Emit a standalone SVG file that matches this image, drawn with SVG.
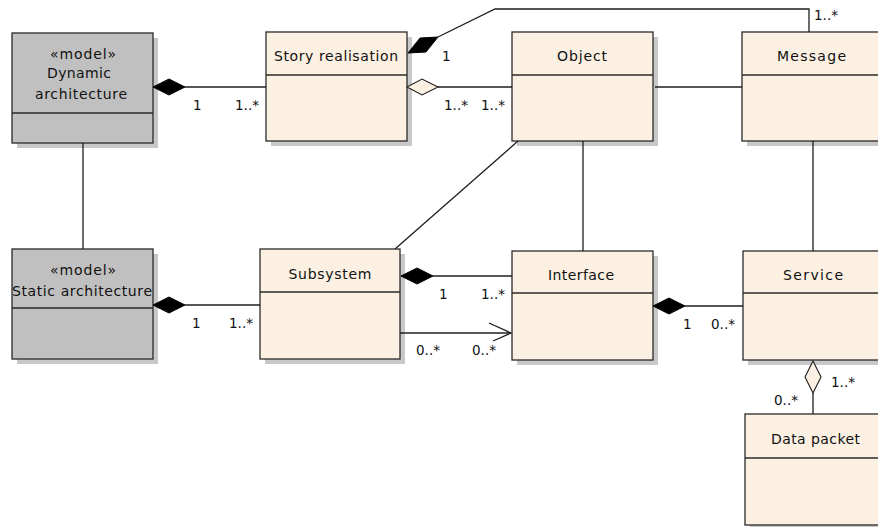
<svg xmlns="http://www.w3.org/2000/svg" width="878" height="527" viewBox="0 0 878 527">
<style>
.box{fill:#FBF0E2;stroke:#2a2a2a;stroke-width:1.3}
.gbox{fill:#C0C0C0;stroke:#2a2a2a;stroke-width:1.3}
.sh{fill:#C8C8C8;stroke:none}
.sep{stroke:#2a2a2a;stroke-width:1.3}
.nm{font-family:"DejaVu Sans",sans-serif;font-size:14px;fill:#111;text-anchor:middle}
.m{font-family:"DejaVu Sans",sans-serif;font-size:13.5px;fill:#111}
.ln{stroke:#1e1e1e;stroke-width:1.3;fill:none}
.fd{fill:#000;stroke:#000;stroke-width:1}
.hd{fill:#FBF0E2;stroke:#1e1e1e;stroke-width:1.1}
</style>
<rect width="878" height="527" fill="#fff"/>

<g id="dynamic-architecture">
<rect class="sh" x="17" y="38" width="141" height="110"/>
<rect class="gbox" x="12" y="33" width="141" height="110"/>
<line class="sep" x1="12" y1="113" x2="153" y2="113"/>
<text class="nm" x="83" y="59" textLength="66" lengthAdjust="spacing">«model»</text>
<text class="nm" x="79" y="78" textLength="64" lengthAdjust="spacing">Dynamic</text>
<text class="nm" x="81" y="99" textLength="92" lengthAdjust="spacing">architecture</text>
</g>

<g id="story-realisation">
<rect class="sh" x="271" y="37" width="141" height="109"/>
<rect class="box" x="266" y="32" width="141" height="109"/>
<line class="sep" x1="266" y1="75" x2="407" y2="75"/>
<text class="nm" x="336" y="61" textLength="124" lengthAdjust="spacing">Story realisation</text>
</g>

<g id="object">
<rect class="sh" x="517" y="37" width="141" height="109"/>
<rect class="box" x="512" y="32" width="141" height="109"/>
<line class="sep" x1="512" y1="75" x2="653" y2="75"/>
<text class="nm" x="582" y="61" textLength="50" lengthAdjust="spacing">Object</text>
</g>

<g id="message">
<rect class="sh" x="747" y="37" width="141" height="109"/>
<rect class="box" x="742" y="32" width="141" height="109"/>
<line class="sep" x1="742" y1="75" x2="883" y2="75"/>
<text class="nm" x="811.5" y="61" textLength="69" lengthAdjust="spacing">Message</text>
</g>

<g id="static-architecture">
<rect class="sh" x="17" y="254" width="141" height="110"/>
<rect class="gbox" x="12" y="249" width="141" height="110"/>
<line class="sep" x1="12" y1="308" x2="153" y2="308"/>
<text class="nm" x="83" y="275" textLength="66" lengthAdjust="spacing">«model»</text>
<text class="nm" x="82" y="296" textLength="140" lengthAdjust="spacing">Static architecture</text>
</g>

<g id="subsystem">
<rect class="sh" x="265" y="254" width="140" height="110"/>
<rect class="box" x="260" y="249" width="140" height="110"/>
<line class="sep" x1="260" y1="292" x2="400" y2="292"/>
<text class="nm" x="330" y="279" textLength="83" lengthAdjust="spacing">Subsystem</text>
</g>

<g id="interface">
<rect class="sh" x="517" y="256" width="141" height="109"/>
<rect class="box" x="512" y="251" width="141" height="109"/>
<line class="sep" x1="512" y1="293" x2="653" y2="293"/>
<text class="nm" x="581" y="280" textLength="66" lengthAdjust="spacing">Interface</text>
</g>

<g id="service">
<rect class="sh" x="748" y="256" width="141" height="109"/>
<rect class="box" x="743" y="251" width="141" height="109"/>
<line class="sep" x1="743" y1="293" x2="884" y2="293"/>
<text class="nm" x="813" y="280" textLength="60" lengthAdjust="spacing">Service</text>
</g>

<g id="data-packet">
<rect class="sh" x="750" y="419" width="141" height="111"/>
<rect class="box" x="745" y="414" width="141" height="111"/>
<line class="sep" x1="745" y1="458" x2="886" y2="458"/>
<text class="nm" x="815.5" y="444" textLength="89" lengthAdjust="spacing">Data packet</text>
</g>

<g id="connectors">
<line class="ln" x1="83" y1="143" x2="83" y2="249"/>
<polygon class="fd" points="153,87 169,79 185,87 169,95"/>
<line class="ln" x1="185" y1="87" x2="266" y2="87"/>
<text class="m" x="193" y="110">1</text>
<text class="m" x="235" y="110">1..*</text>
<polygon class="fd" points="408,53 420,38 438,37 426,52"/>
<polyline class="ln" points="438,37 495,9 809,9 809,32"/>
<text class="m" x="442" y="61">1</text>
<text class="m" x="814" y="20">1..*</text>
<polygon class="hd" points="407,87 422,79 438,87 422,95"/>
<line class="ln" x1="438" y1="87" x2="512" y2="87"/>
<text class="m" x="444" y="110">1..*</text>
<text class="m" x="481" y="110">1..*</text>
<line class="ln" x1="655" y1="87" x2="742" y2="87"/>
<line class="ln" x1="583" y1="141" x2="583" y2="251"/>
<line class="ln" x1="813" y1="141" x2="813" y2="251"/>
<line class="ln" x1="518" y1="141" x2="395" y2="249"/>
<polygon class="fd" points="153,305 169,297 185,305 169,313"/>
<line class="ln" x1="185" y1="305" x2="260" y2="305"/>
<text class="m" x="192" y="328">1</text>
<text class="m" x="229" y="328">1..*</text>
<polygon class="fd" points="401,276 417,268 433,276 417,284"/>
<line class="ln" x1="433" y1="276" x2="512" y2="276"/>
<text class="m" x="439" y="299">1</text>
<text class="m" x="481" y="299">1..*</text>
<line class="ln" x1="400" y1="333" x2="511" y2="333"/>
<polyline class="ln" points="489,323 511,333 493,341"/>
<text class="m" x="416" y="355">0..*</text>
<text class="m" x="472" y="355">0..*</text>
<polygon class="fd" points="653,306 669,298 685,306 669,314"/>
<line class="ln" x1="685" y1="306" x2="743" y2="306"/>
<text class="m" x="683" y="329">1</text>
<text class="m" x="711" y="329">0..*</text>
<polygon class="hd" points="813,361 821,377 813,393 805,377"/>
<line class="ln" x1="813" y1="393" x2="813" y2="414"/>
<text class="m" x="831" y="387">1..*</text>
<text class="m" x="774" y="405">0..*</text>
</g>
</svg>
